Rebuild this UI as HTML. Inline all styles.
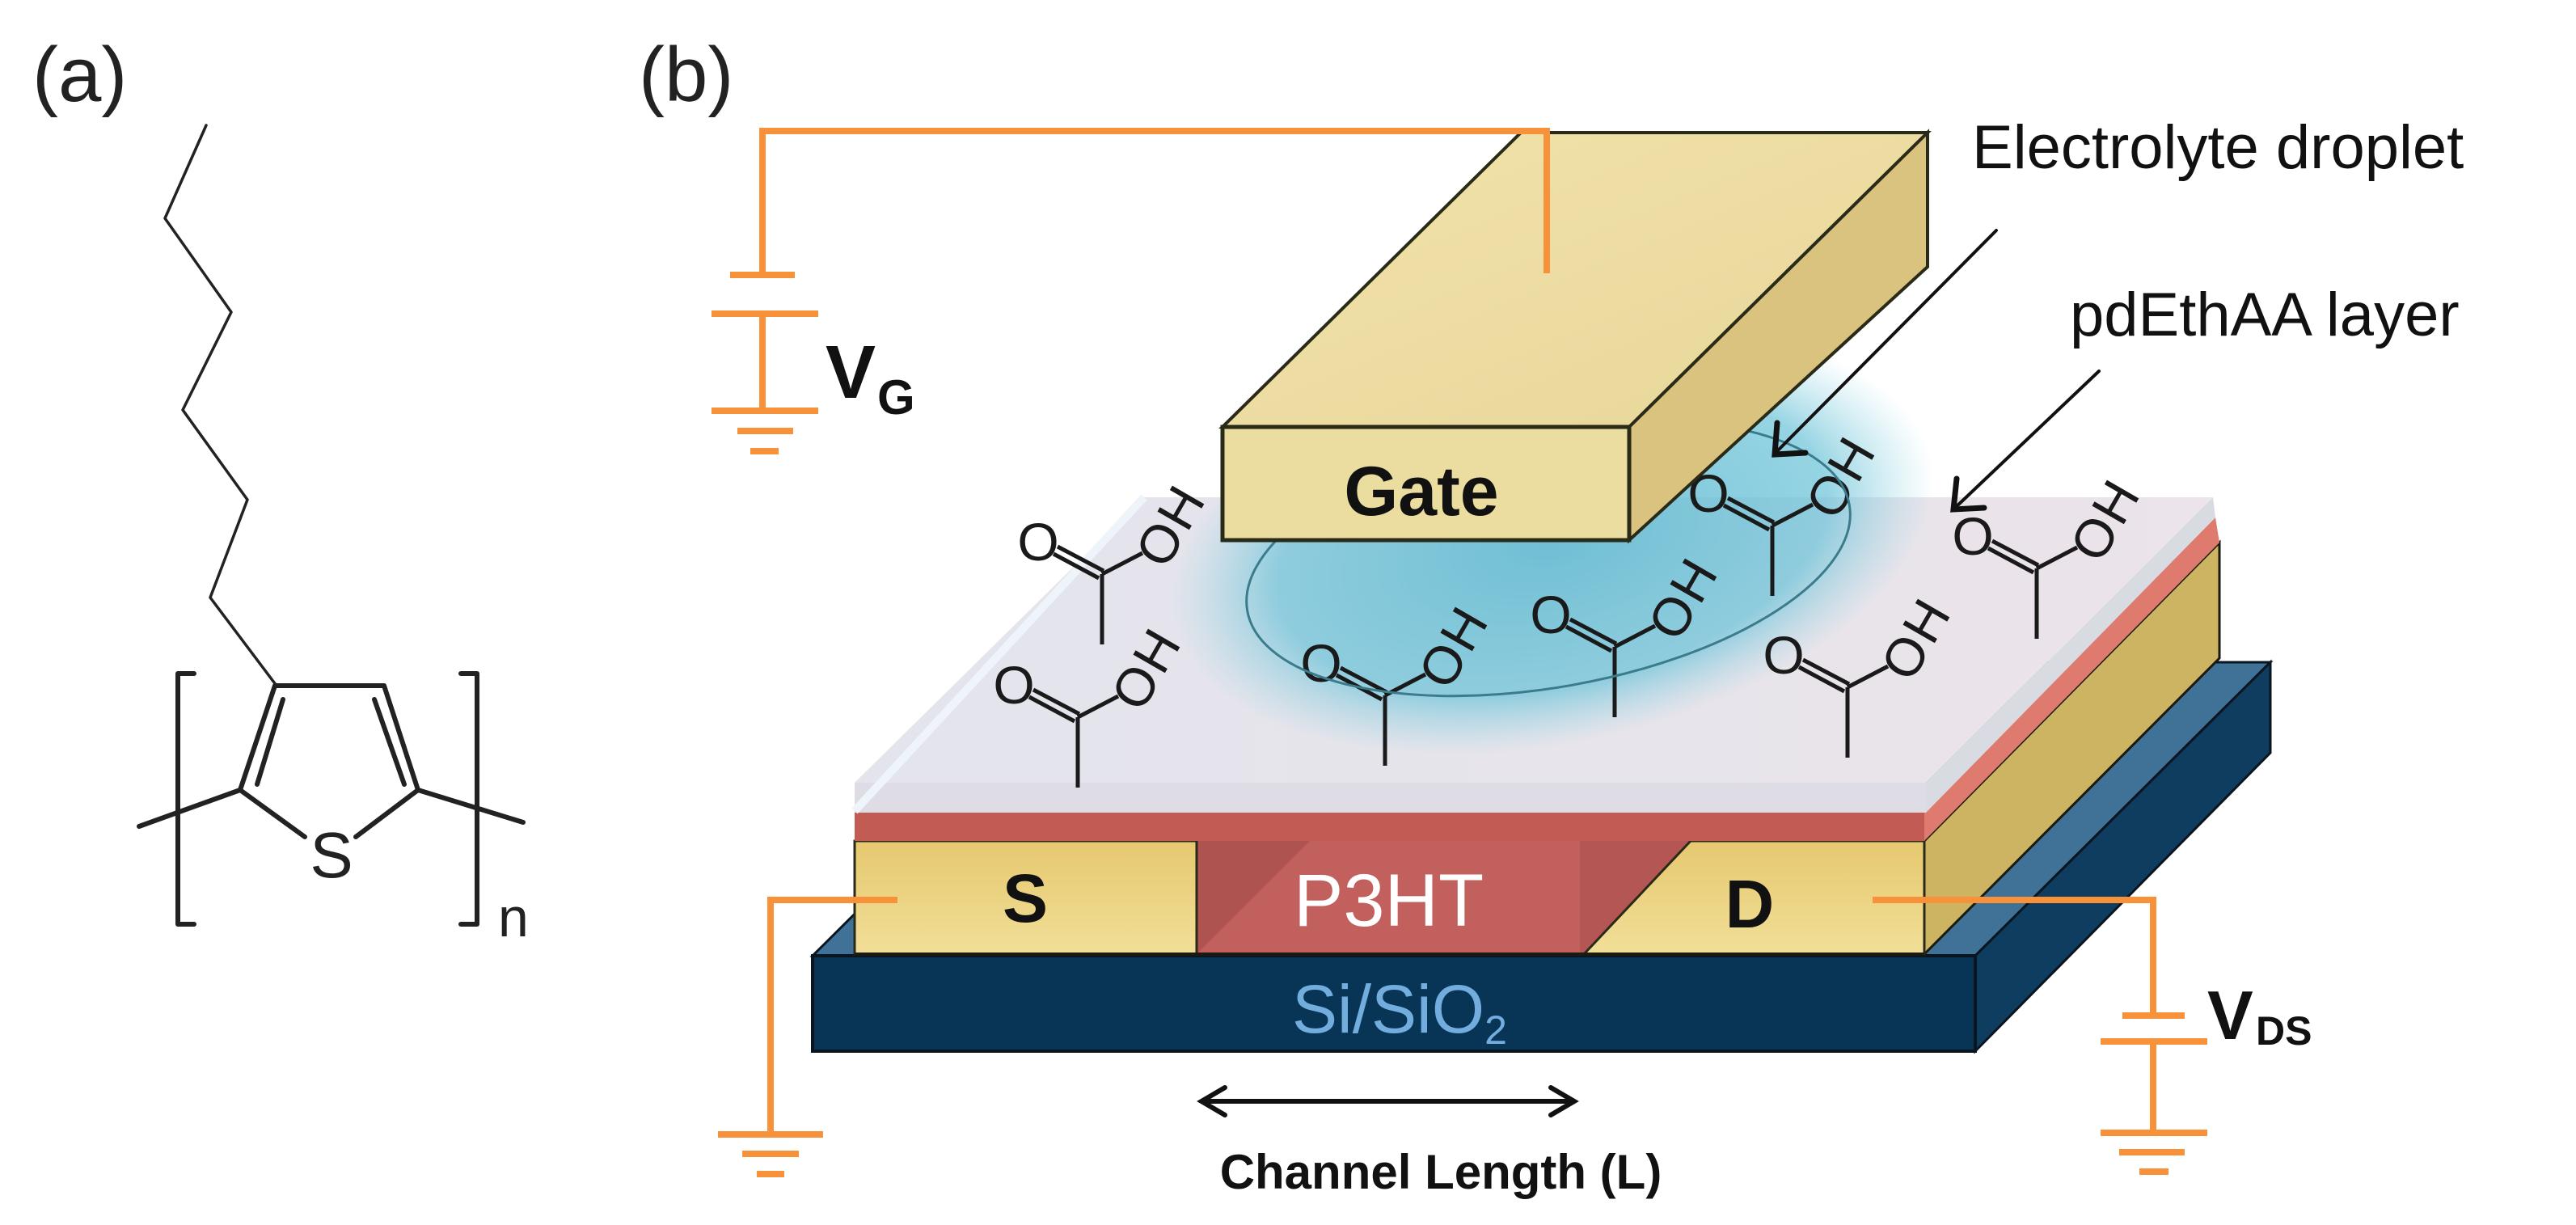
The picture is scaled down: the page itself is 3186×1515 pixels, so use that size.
<!DOCTYPE html>
<html><head><meta charset="utf-8"><style>
html,body{margin:0;padding:0;background:#fff;}
svg{display:block;}
text{font-family:"Liberation Sans",Arial,sans-serif;}
</style></head><body>
<svg width="3186" height="1515" viewBox="0 0 3186 1515" xmlns="http://www.w3.org/2000/svg">
<defs>
<radialGradient id="glow" cx="50%" cy="50%" r="50%">
<stop offset="0" stop-color="#5ab8d0" stop-opacity="0.85"/>
<stop offset="0.72" stop-color="#6cc3d8" stop-opacity="0.72"/>
<stop offset="1" stop-color="#8fd3e3" stop-opacity="0"/>
</radialGradient>
<linearGradient id="yel" x1="0" y1="0" x2="0" y2="1">
<stop offset="0" stop-color="#e6c86f"/><stop offset="1" stop-color="#f1df98"/>
</linearGradient>
<linearGradient id="gtop" x1="0" y1="0" x2="1" y2="1">
<stop offset="0" stop-color="#f1e3aa"/><stop offset="1" stop-color="#e8d699"/>
</linearGradient>
<linearGradient id="lav" x1="0" y1="0" x2="1" y2="0">
<stop offset="0" stop-color="#e3e4ec"/><stop offset="1" stop-color="#ebe4ea"/>
</linearGradient>
<g id="mol" stroke="#1a1a1a" stroke-width="5" fill="none">
<line x1="0" y1="0" x2="0" y2="87"/>
<line x1="2" y1="-4" x2="-55" y2="-34"/>
<line x1="-4" y1="5" x2="-60" y2="-25"/>
<line x1="0" y1="0" x2="50" y2="-26"/>
<text x="-79" y="-40" font-size="66" fill="#1a1a1a" stroke="none" text-anchor="middle" dominant-baseline="central">O</text>
<text transform="translate(71,-37) rotate(-60)" x="-25" y="0" font-size="66" fill="#1a1a1a" stroke="none" dominant-baseline="central" letter-spacing="2">OH</text>
</g>
</defs>

<text x="40" y="125" font-size="96" fill="#222">(a)</text>
<text x="790" y="125" font-size="96" fill="#222">(b)</text>

<g stroke="#222" fill="none" stroke-linejoin="round" stroke-linecap="round">
<polyline stroke-width="3.5" points="255,155 204,270 286,386 226,507 306,618 260,739 342,848"/>
<g stroke-width="6">
<polyline points="377,1035 297,977 340,848 475,848 517,977 440,1035"/>
<line x1="350" y1="865" x2="318" y2="970"/>
<line x1="463" y1="865" x2="500" y2="970"/>
<line x1="297" y1="977" x2="172" y2="1022"/>
<line x1="517" y1="977" x2="647" y2="1017"/>
<polyline points="240,833 220,833 220,1143 240,1143"/>
<polyline points="570,833 590,833 590,1143 570,1143"/>
</g>
</g>
<text x="410" y="1085" font-size="80" fill="#222" text-anchor="middle">S</text>
<text x="616" y="1158" font-size="68" fill="#222">n</text>

<polygon points="1005,1182 2443,1182 2808,819 1370,819" fill="#3f7296" stroke="#0a1520" stroke-width="3"/>
<polygon points="2443,1182 2808,819 2808,931 2443,1300" fill="#0e3d60" stroke="#0a1520" stroke-width="3"/>
<rect x="1005" y="1182" width="1438" height="118" fill="#083556" stroke="#0a1520" stroke-width="4"/>
<text x="1598" y="1277" font-size="84" fill="#73addd">Si/SiO<tspan font-size="50" dy="14">2</tspan></text>

<polygon points="2380,1040 2745,671 2745,814 2380,1180" fill="#cdb462" stroke="#1a1a10" stroke-width="3"/>
<rect x="1057" y="1040" width="1323" height="140" fill="#c1605d"/>
<polygon points="1480,1180 1620,1040 1480,1040" fill="#ae5350"/>
<rect x="1954" y="1040" width="137" height="140" fill="#b45653"/>
<rect x="1057" y="1040" width="423" height="140" fill="url(#yel)" stroke="#2a2a18" stroke-width="3"/>
<polygon points="1959,1180 2091,1040 2380,1040 2380,1180" fill="url(#yel)" stroke="#2a2a18" stroke-width="3"/>
<line x1="1057" y1="1180" x2="2380" y2="1180" stroke="#1a1a10" stroke-width="4"/>
<text x="1600" y="1145" font-size="92" fill="#fff">P3HT</text>
<text x="1268" y="1140" font-size="84" font-weight="bold" fill="#111" text-anchor="middle">S</text>
<text x="2164" y="1147" font-size="84" font-weight="bold" fill="#111" text-anchor="middle">D</text>

<polygon points="2380,1005 2740,640 2745,671 2380,1040" fill="#df7a6f"/>
<rect x="1057" y="1005" width="1323" height="35" fill="#c35b55"/>
<polygon points="2382,968 2737,615 2740,640 2382,1005" fill="#d9dbe3"/>
<rect x="1057" y="968" width="1325" height="37" fill="#dedce4"/>
<polygon points="1057,968 2382,968 2737,615 1415,615" fill="url(#lav)"/>
<line x1="1057" y1="1003" x2="1415" y2="615" stroke="#eef4fa" stroke-width="10"/>

<ellipse cx="1920" cy="670" rx="480" ry="250" transform="rotate(-12 1920 670)" fill="url(#glow)"/>

<use href="#mol" x="1363" y="710"/>
<use href="#mol" x="1333" y="887"/>
<use href="#mol" x="1713" y="860"/>
<use href="#mol" x="1997" y="800"/>
<use href="#mol" x="2192" y="650"/>
<use href="#mol" x="2285" y="850"/>
<use href="#mol" x="2519" y="703"/>

<ellipse cx="1915" cy="690" rx="378" ry="160" transform="rotate(-10 1915 690)" fill="none" stroke="#3b7c8c" stroke-width="3"/>

<polygon points="1512,528 2015,528 2384,164 1881,164" fill="url(#gtop)" stroke="#2a2a18" stroke-width="4"/>
<polygon points="2015,528 2384,164 2384,330 2015,668" fill="#d9c37f" stroke="#2a2a18" stroke-width="4"/>
<rect x="1512" y="528" width="503" height="140" fill="#ebdca0" stroke="#2a2a18" stroke-width="5"/>
<text x="1758" y="637" font-size="86" font-weight="bold" fill="#111" text-anchor="middle">Gate</text>

<g stroke="#f7923a" stroke-width="8" fill="none">
<polyline points="943,340 943,162 1913,162 1913,338"/>
<line x1="903" y1="340" x2="983" y2="340"/>
<line x1="880" y1="388" x2="1012" y2="388"/>
<line x1="943" y1="388" x2="943" y2="508"/>
<line x1="880" y1="508" x2="1012" y2="508"/>
<line x1="912" y1="533" x2="981" y2="533"/>
<line x1="928" y1="558" x2="963" y2="558"/>
<polyline points="1110,1113 953,1113 953,1403"/>
<line x1="888" y1="1403" x2="1018" y2="1403"/>
<line x1="918" y1="1427" x2="988" y2="1427"/>
<line x1="936" y1="1452" x2="970" y2="1452"/>
<polyline points="2316,1113 2663,1113 2663,1256"/>
<line x1="2625" y1="1256" x2="2702" y2="1256"/>
<line x1="2598" y1="1288" x2="2730" y2="1288"/>
<line x1="2663" y1="1288" x2="2663" y2="1401"/>
<line x1="2598" y1="1401" x2="2730" y2="1401"/>
<line x1="2621" y1="1425" x2="2702" y2="1425"/>
<line x1="2646" y1="1449" x2="2682" y2="1449"/>
</g>
<text x="1021" y="492" font-size="93" font-weight="bold" fill="#111">V</text>
<text x="1085" y="512" font-size="60" font-weight="bold" fill="#111">G</text>
<text x="2730" y="1285" font-size="85" font-weight="bold" fill="#111">V</text>
<text x="2790" y="1292" font-size="50" font-weight="bold" fill="#111">DS</text>

<g stroke="#111" stroke-width="4" fill="none" stroke-linecap="round">
<line x1="2469" y1="285" x2="2196" y2="560"/>
<polyline points="2198,523 2195,562 2233,560" stroke-width="7"/>
<line x1="2596" y1="459" x2="2418" y2="628"/>
<polyline points="2420,592 2416,630 2454,628" stroke-width="7"/>
</g>
<text x="2439" y="208" font-size="76" fill="#111">Electrolyte droplet</text>
<text x="2560" y="415" font-size="76" fill="#111">pdEthAA layer</text>

<g stroke="#111" stroke-width="6" fill="none" stroke-linecap="round">
<line x1="1488" y1="1362" x2="1946" y2="1362"/>
<polyline points="1515,1345 1486,1362 1515,1379"/>
<polyline points="1918,1345 1947,1362 1918,1379"/>
</g>
<text x="1782" y="1470" font-size="60" font-weight="bold" fill="#111" text-anchor="middle">Channel Length (L)</text>
</svg>
</body></html>
